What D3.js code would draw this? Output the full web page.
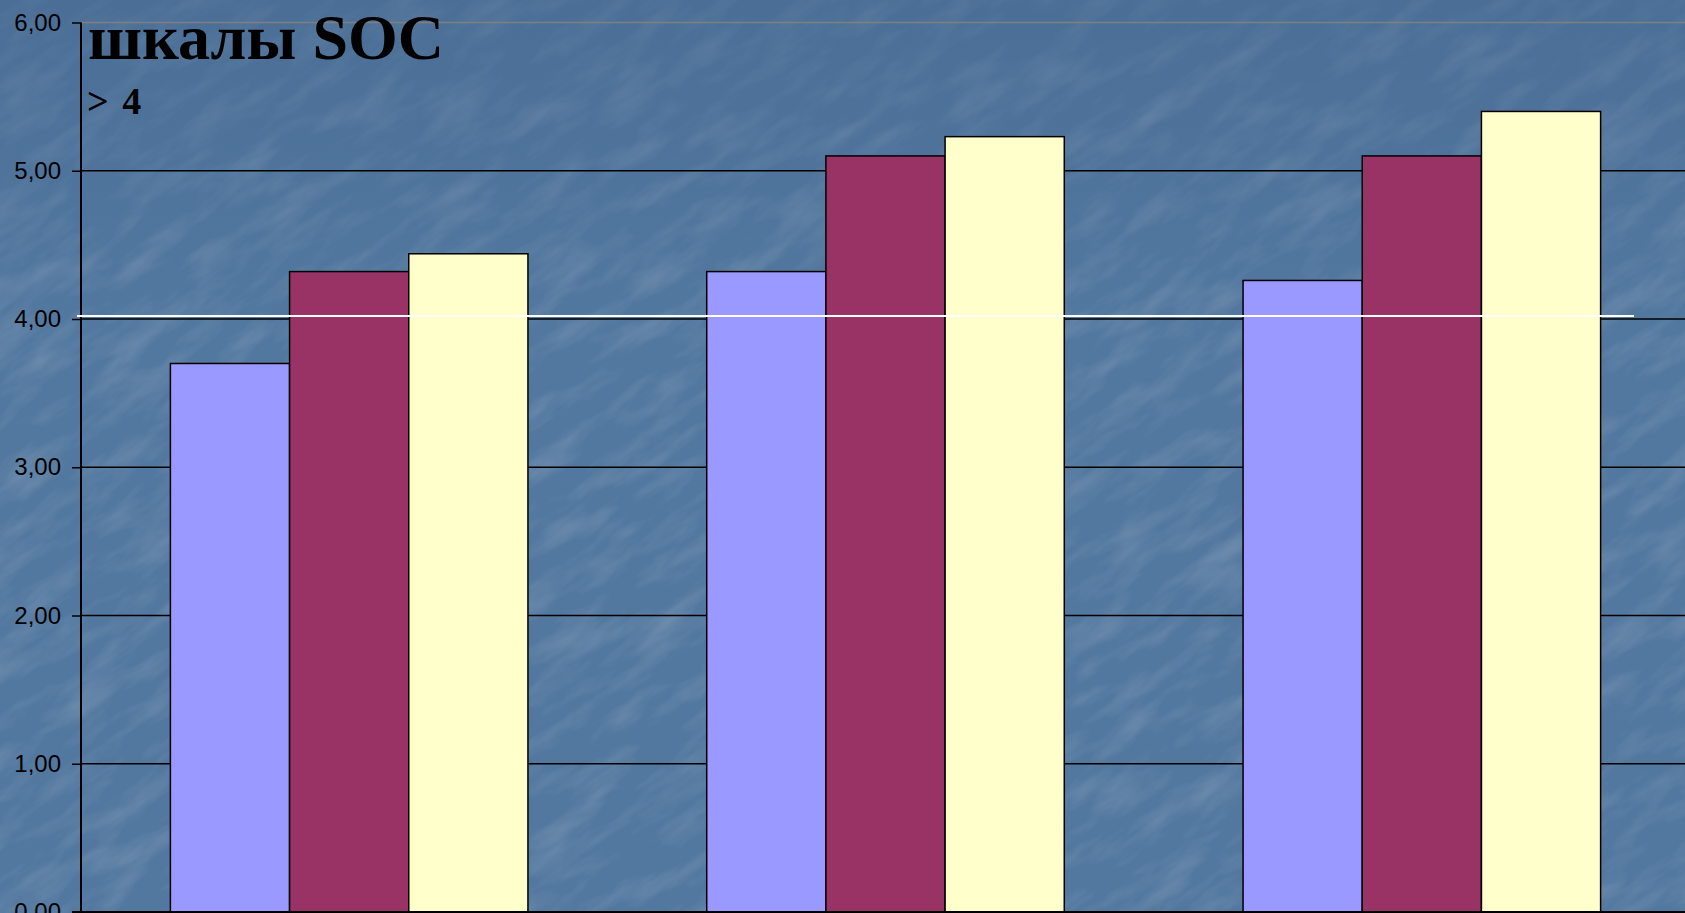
<html>
<head>
<style>
    body {
        margin: 0;
        background: #4e7399;
        overflow: hidden;
    }
</style>
<script src="https://d3js.org/d3.v7.min.js"></script>
</head>
<body>
<svg id="Chart"></svg>
</body>
<script>

// chart data
let categories = ["Группа 1", "Группа 2", "Группа 3"]
let seriesNames = ["Серия 1", "Серия 2", "Серия 3"]
let series1 = [3.70, 4.32, 4.26]
let series2 = [4.32, 5.10, 5.10]
let series3 = [4.44, 5.23, 5.40]
let yTicks = [0, 1, 2, 3, 4, 5, 6]
let refValue = [4.02]
let titleText = "шкалы SOC"
let subtitleText = "> 4"

let colors = ["#9999ff", "#993366", "#ffffcc"]

let width = 1685
let height = 913

let svg = d3.select("#Chart")
    .attr("width", width)
    .attr("height", height)

// background texture
let defs = svg.append("defs")
let filt = defs.append("filter").attr("id", "tissue")
    .attr("x", 0).attr("y", 0).attr("width", "100%").attr("height", "100%")
filt.append("feTurbulence")
    .attr("type", "fractalNoise")
    .attr("baseFrequency", "0.014 0.045")
    .attr("numOctaves", 4)
    .attr("seed", 7)
filt.append("feColorMatrix")
    .attr("type", "matrix")
    .attr("values", "0 0 0 0 1  0 0 0 0 1  0 0 0 0 1  1.4 0 0 0 -0.6")

svg.append("rect")
    .attr("width", width).attr("height", height)
    .attr("fill", "#53789f")

svg.append("g")
    .attr("transform", `translate(${width / 2},${height / 2}) rotate(-35)`)
  .append("rect")
    .attr("x", -1300).attr("y", -1300)
    .attr("width", 2600).attr("height", 2600)
    .attr("filter", "url(#tissue)")
    .attr("opacity", 0.2)

let shade = defs.append("linearGradient").attr("id", "shade")
    .attr("x1", 0).attr("y1", 0).attr("x2", 0).attr("y2", 1)
shade.append("stop").attr("offset", 0).attr("stop-color", "#3d5f88").attr("stop-opacity", 0.4)
shade.append("stop").attr("offset", 0.35).attr("stop-color", "#3d5f88").attr("stop-opacity", 0)
svg.append("rect")
    .attr("width", width).attr("height", height)
    .attr("fill", "url(#shade)")

// scales
let plotLeft = 81
let plotTop = 22.5
let plotBottom = 912

let x = d3.scaleBand()
    .domain(categories)
    .range([plotLeft, 1690])
    .paddingInner(1 / 3)
    .paddingOuter(1 / 6)

let xSub = d3.scaleBand()
    .domain(seriesNames)
    .range([0, x.bandwidth()])

let y = d3.scaleLinear()
    .domain([0, 6])
    .range([plotBottom, plotTop])

// plot border top
svg.append("line")
    .attr("x1", plotLeft).attr("x2", width)
    .attr("y1", y(6)).attr("y2", y(6))
    .attr("stroke", "#7f7f7f")
    .attr("stroke-width", 1.5)

// gridlines
svg.append("g")
    .selectAll("line")
    .data(yTicks.filter(d => d > 0 && d < 6))
    .join("line")
    .attr("x1", plotLeft).attr("x2", width)
    .attr("y1", d => y(d)).attr("y2", d => y(d))
    .attr("stroke", "#000")
    .attr("stroke-width", 1.5)

// bars
let rows = categories.map((c, i) => ({
    cat: c,
    vals: [series1[i], series2[i], series3[i]]
}))

svg.append("g")
    .selectAll("g")
    .data(rows)
    .join("g")
    .attr("transform", d => `translate(${x(d.cat)},0)`)
    .selectAll("rect")
    .data(d => d.vals.map((v, j) => ({name: seriesNames[j], v: v, j: j})))
    .join("rect")
    .attr("x", d => xSub(d.name))
    .attr("y", d => y(d.v))
    .attr("width", xSub.bandwidth())
    .attr("height", d => y(0) - y(d.v))
    .attr("fill", d => colors[d.j])
    .attr("stroke", "#000")
    .attr("stroke-width", 1.5)

// y axis
let yAxis = d3.axisLeft(y)
    .tickValues(yTicks)
    .tickSize(9)
    .tickPadding(11)
    .tickFormat(d => d3.format(".2f")(d).replace(".", ","))

let ax = svg.append("g")
    .attr("transform", `translate(${plotLeft},0)`)
    .call(yAxis)
ax.select(".domain").remove()
ax.selectAll(".tick line").attr("stroke", "#000").attr("stroke-width", 1.5)
ax.selectAll(".tick text")
    .attr("fill", "#000")
    .style("font-family", "'Liberation Sans', Arial, sans-serif")
    .style("font-size", "24px")

svg.append("line")
    .attr("x1", plotLeft).attr("x2", plotLeft)
    .attr("y1", y(6)).attr("y2", height)
    .attr("stroke", "#000")
    .attr("stroke-width", 2)

svg.append("line")
    .attr("x1", plotLeft - 9).attr("x2", width)
    .attr("y1", y(0)).attr("y2", y(0))
    .attr("stroke", "#000")
    .attr("stroke-width", 2)

// reference line
svg.append("g")
    .selectAll("line")
    .data(refValue)
    .join("line")
    .attr("x1", 77).attr("x2", 1634)
    .attr("y1", d => y(d)).attr("y2", d => y(d))
    .attr("stroke", "#ffffff")
    .attr("stroke-width", 2)

// titles
svg.append("text")
    .attr("x", 88).attr("y", 59)
    .style("font-family", "'Liberation Serif', 'Times New Roman', serif")
    .style("font-weight", "bold")
    .style("font-size", "64px")
    .attr("fill", "#000")
    .text(titleText)

svg.append("text")
    .attr("x", 87).attr("y", 114)
    .style("font-family", "'Liberation Serif', 'Times New Roman', serif")
    .style("font-weight", "bold")
    .style("font-size", "38px")
    .style("word-spacing", "4px")
    .attr("fill", "#000")
    .text(subtitleText)

</script>
</html>
